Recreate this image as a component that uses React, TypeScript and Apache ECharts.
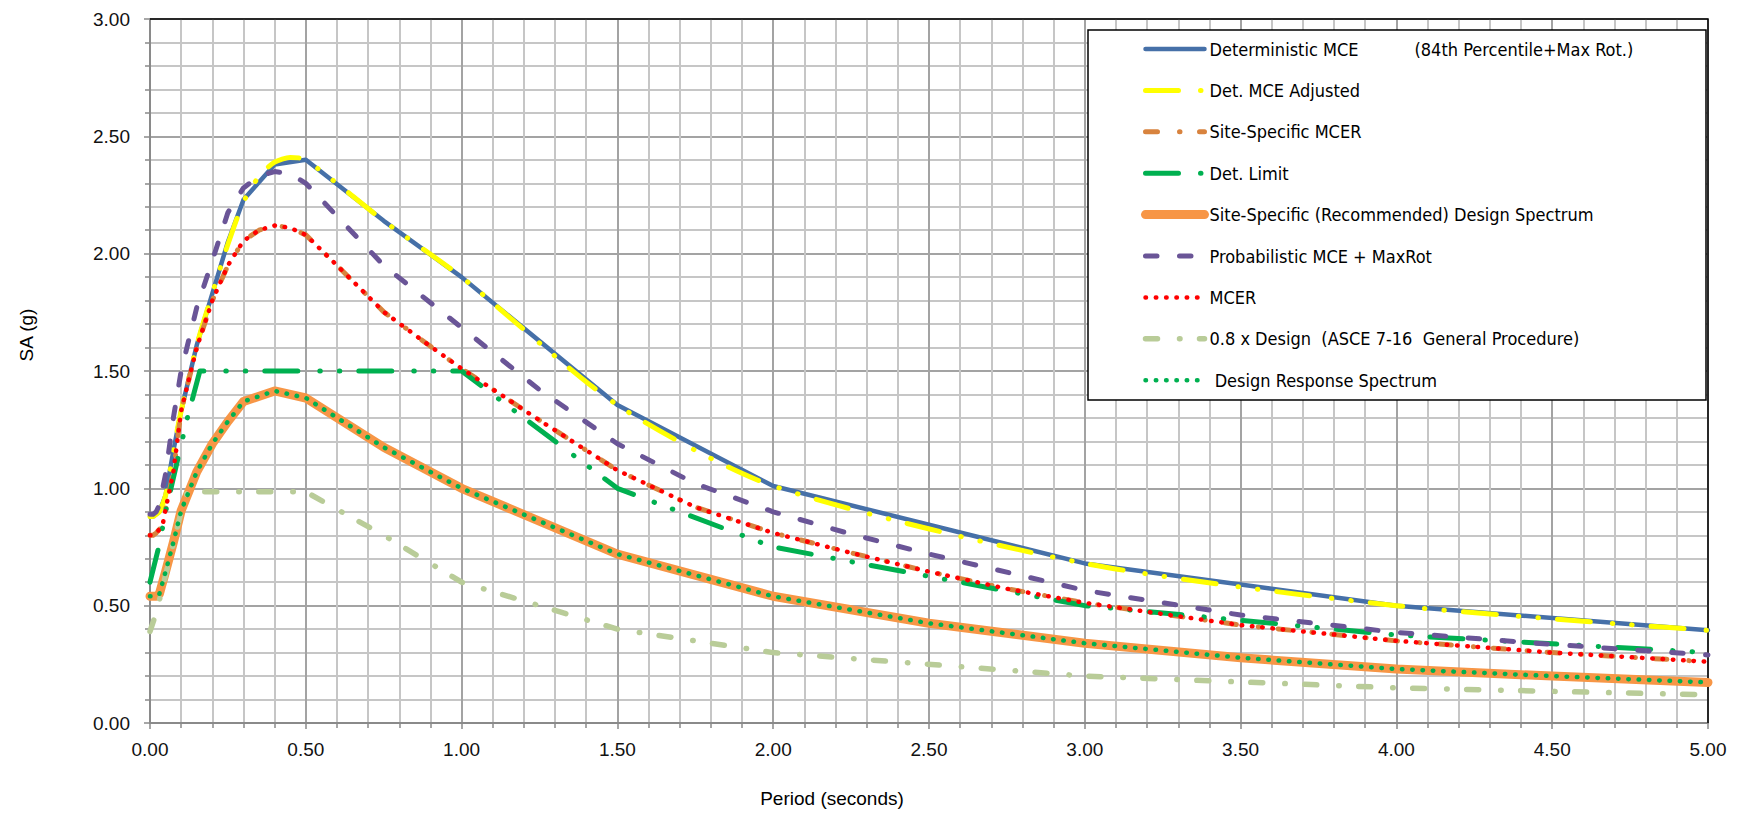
import React, { useEffect, useRef } from 'react';
import * as echarts from 'echarts';

// ---- Data (period in seconds, SA in g) ----
const detMceT = [0, 0.01, 0.02, 0.03, 0.05, 0.075, 0.1, 0.15, 0.2, 0.25, 0.3, 0.4, 0.5, 0.75, 1.0, 1.5, 2.0, 3.0, 4.0, 5.0];
const detMceSa = [0.88, 0.88, 0.89, 0.9, 0.97, 1.16, 1.33, 1.61, 1.83, 2.05, 2.23, 2.38, 2.4, 2.14, 1.9, 1.355, 1.01, 0.68, 0.5, 0.395];

const detMceAdjT = [0, 0.01, 0.02, 0.03, 0.05, 0.075, 0.1, 0.15, 0.2, 0.25, 0.3, 0.35, 0.4, 0.45, 0.5, 0.75, 1.0, 1.5, 2.0, 3.0, 4.0, 5.0];
const detMceAdjSa = [0.88, 0.88, 0.89, 0.9, 0.97, 1.16, 1.33, 1.61, 1.83, 2.04, 2.22, 2.33, 2.39, 2.41, 2.4, 2.14, 1.9, 1.355, 1.01, 0.68, 0.5, 0.395];

const siteMcerT = [0, 0.01, 0.02, 0.03, 0.04, 0.05, 0.075, 0.1, 0.15, 0.2, 0.25, 0.3, 0.35, 0.4, 0.45, 0.5, 0.6, 0.75, 0.9, 1.0, 1.25, 1.5, 1.75, 2.0, 2.25, 2.5, 2.75, 3.0, 3.5, 4.0, 4.5, 5.0];
const siteMcerSa = [0.8, 0.8, 0.81, 0.825, 0.84, 0.91, 1.07, 1.33, 1.6, 1.8, 1.95, 2.055, 2.1, 2.12, 2.11, 2.08, 1.95, 1.752, 1.605, 1.51, 1.29, 1.077, 0.92, 0.81, 0.725, 0.645, 0.572, 0.512, 0.417, 0.35, 0.3, 0.261];

const detLimitT = [0, 0.03, 0.05, 0.09, 0.12, 0.16, 1.0, 1.5, 2.0, 3.0, 4.0, 5.0];
const detLimitSa = [0.6, 0.76, 0.9, 1.13, 1.3, 1.5, 1.5, 1.0, 0.75, 0.5, 0.375, 0.3];

const siteDesignT = [0, 0.01, 0.02, 0.03, 0.05, 0.075, 0.1, 0.15, 0.2, 0.25, 0.3, 0.4, 0.5, 0.75, 1.0, 1.5, 2.0, 2.5, 3.0, 3.5, 4.0, 4.5, 5.0];
const siteDesignSa = [0.54, 0.54, 0.54, 0.55, 0.645, 0.77, 0.905, 1.07, 1.19, 1.285, 1.37, 1.415, 1.385, 1.175, 1.0, 0.72, 0.54, 0.425, 0.34, 0.278, 0.23, 0.2, 0.173];

const probMceT = [0, 0.01, 0.02, 0.03, 0.05, 0.075, 0.1, 0.15, 0.2, 0.25, 0.3, 0.35, 0.4, 0.45, 0.5, 0.75, 1.0, 1.25, 1.5, 1.75, 2.0, 2.25, 2.5, 3.0, 3.5, 4.0, 4.5, 5.0];
const probMceSa = [0.89, 0.89, 0.9, 0.93, 1.06, 1.3, 1.5, 1.77, 1.97, 2.175, 2.28, 2.33, 2.35, 2.34, 2.3, 1.95, 1.685, 1.42, 1.19, 1.02, 0.9, 0.805, 0.72, 0.565, 0.46, 0.386, 0.335, 0.29];

const mcerT = [0, 0.01, 0.02, 0.03, 0.04, 0.05, 0.075, 0.1, 0.15, 0.2, 0.25, 0.3, 0.35, 0.4, 0.45, 0.5, 0.6, 0.75, 0.9, 1.0, 1.25, 1.5, 1.75, 2.0, 2.25, 2.5, 2.75, 3.0, 3.5, 4.0, 4.5, 5.0];
const mcerSa = [0.8, 0.8, 0.81, 0.825, 0.84, 0.91, 1.07, 1.33, 1.6, 1.8, 1.95, 2.055, 2.1, 2.12, 2.11, 2.08, 1.95, 1.752, 1.605, 1.51, 1.29, 1.077, 0.92, 0.81, 0.725, 0.645, 0.572, 0.512, 0.417, 0.35, 0.3, 0.261];

const design08T = [0, 0.02, 0.05, 0.1, 0.12, 0.5, 0.75, 1.0, 1.5, 2.0, 3.0, 4.0, 5.0];
const design08Sa = [0.39, 0.47, 0.63, 0.9, 0.985, 0.985, 0.8, 0.6, 0.4, 0.3, 0.2, 0.15, 0.12];

const designRespT = [0, 0.01, 0.02, 0.03, 0.05, 0.075, 0.1, 0.15, 0.2, 0.25, 0.3, 0.4, 0.5, 0.75, 1.0, 1.5, 2.0, 2.5, 3.0, 3.5, 4.0, 4.5, 5.0];
const designRespSa = [0.54, 0.54, 0.54, 0.55, 0.645, 0.77, 0.905, 1.07, 1.19, 1.285, 1.37, 1.415, 1.385, 1.175, 1.0, 0.72, 0.54, 0.425, 0.34, 0.278, 0.23, 0.2, 0.173];

const seriesNames = [
  'Deterministic MCE',
  'Det. MCE Adjusted',
  'Site-Specific MCER',
  'Det. Limit',
  'Site-Specific (Recommended) Design Spectrum',
  'Probabilistic MCE + MaxRot',
  'MCER',
  '0.8 x Design  (ASCE 7-16  General Procedure)',
  ' Design Response Spectrum',
];

const pairs = (t: number[], v: number[]) => t.map((x, i) => [x, v[i]]);

const NARROW = "'Liberation Sans Narrow', 'DejaVu Sans Condensed', 'Liberation Sans', sans-serif";
const SANS = "'Liberation Sans', Arial, sans-serif";

export default function App() {
  const ref = useRef<HTMLDivElement>(null);

  useEffect(() => {
    if (!ref.current) return;
    const chart = echarts.init(ref.current, undefined, { renderer: 'svg' });

    const mk = (
      name: string,
      data: number[][],
      color: string,
      width: number,
      type: any,
      smooth: number | boolean = false
    ) => ({
      name,
      type: 'line',
      data,
      showSymbol: false,
      smooth,
      lineStyle: { color, width, type, cap: 'round', join: 'round' },
      itemStyle: { color },
      emphasis: { disabled: true },
    });

    const longDashDotDot = [33, 22, 0.5, 19, 0.5, 19];
    const dashDot = [12, 22, 0.5, 19.5];
    const dotted = [0.5, 9.8];

    chart.setOption({
      animation: false,
      textStyle: { fontFamily: SANS },
      grid: {
        left: 150,
        top: 19,
        width: 1558,
        height: 704,
        show: false,
      },
      xAxis: {
        type: 'value',
        min: 0,
        max: 5,
        interval: 0.5,
        axisLine: { show: true, lineStyle: { color: '#8a8a8a', width: 2 } },
        axisTick: { show: true, length: 6, lineStyle: { color: '#8a8a8a', width: 1.5 } },
        minorTick: { show: true, splitNumber: 5, length: 5, lineStyle: { color: '#8a8a8a', width: 1.5 } },
        splitLine: { show: true, lineStyle: { color: '#a3a3a3', width: 2 } },
        minorSplitLine: { show: true, lineStyle: { color: '#c6c6c6', width: 2 } },
        axisLabel: {
          formatter: (v: number) => v.toFixed(2),
          fontSize: 19,
          fontFamily: SANS,
          color: '#111',
          margin: 17,
        },
      },
      yAxis: {
        type: 'value',
        min: 0,
        max: 3,
        interval: 0.5,
        axisLine: { show: true, lineStyle: { color: '#8a8a8a', width: 2 } },
        axisTick: { show: true, length: 6, lineStyle: { color: '#8a8a8a', width: 1.5 } },
        minorTick: { show: true, splitNumber: 5, length: 5, lineStyle: { color: '#8a8a8a', width: 1.5 } },
        splitLine: { show: true, lineStyle: { color: '#a3a3a3', width: 2 } },
        minorSplitLine: { show: true, lineStyle: { color: '#c6c6c6', width: 2 } },
        axisLabel: {
          formatter: (v: number) => v.toFixed(2),
          fontSize: 19,
          fontFamily: SANS,
          color: '#111',
          margin: 20,
        },
      },
      legend: {
        orient: 'vertical',
        left: 1141,
        top: 39,
        padding: 0,
        itemWidth: 59,
        itemHeight: 14,
        itemGap: 21.4,
        z: 10,
        selectedMode: false,
        data: seriesNames,
        lineStyle: { width: 'inherit' },
        itemStyle: { color: 'rgba(0,0,0,0)', borderWidth: 0, opacity: 0 },
        formatter: (name: string) =>
          name === 'Deterministic MCE'
            ? '{a|Deterministic MCE}{b|(84th Percentile+Max Rot.)}'
            : name,
        textStyle: {
          fontFamily: NARROW,
          fontSize: 18,
          lineHeight: 20,
          color: '#000',
          rich: {
            a: { fontFamily: NARROW, fontSize: 18, lineHeight: 20, width: 205, color: '#000' },
            b: { fontFamily: NARROW, fontSize: 18, lineHeight: 20, color: '#000' },
          },
        },
      },
      graphic: [
        {
          type: 'rect',
          z: 3,
          shape: { x: 1088, y: 30, width: 618, height: 370 },
          style: { fill: '#fff', stroke: '#000', lineWidth: 1.5 },
          silent: true,
        },
        {
          type: 'polyline',
          z: 3,
          shape: { points: [[150, 19], [1708, 19], [1708, 723]] },
          style: { fill: 'none', stroke: '#000', lineWidth: 1.5 },
          silent: true,
        },
        {
          type: 'text',
          x: 26,
          y: 335,
          rotation: Math.PI / 2,
          style: {
            text: 'SA (g)',
            fontSize: 19,
            fontFamily: SANS,
            fill: '#000',
            align: 'center',
            verticalAlign: 'middle',
          },
        },
        {
          type: 'text',
          x: 832,
          y: 798,
          style: {
            text: 'Period (seconds)',
            fontSize: 19,
            fontFamily: SANS,
            fill: '#000',
            align: 'center',
            verticalAlign: 'middle',
          },
        },
      ],
      series: [
        mk(seriesNames[0], pairs(detMceT, detMceSa), '#4670a8', 4.5, 'solid'),
        mk(seriesNames[1], pairs(detMceAdjT, detMceAdjSa), '#ffff00', 5, longDashDotDot, 0.25),
        mk(seriesNames[2], pairs(siteMcerT, siteMcerSa), '#d8833e', 5, dashDot),
        mk(seriesNames[3], pairs(detLimitT, detLimitSa), '#00b050', 5, longDashDotDot),
        mk(seriesNames[4], pairs(siteDesignT, siteDesignSa), '#f79646', 9, 'solid'),
        mk(seriesNames[5], pairs(probMceT, probMceSa), '#6a5597', 5, [11.5, 22.5]),
        mk(seriesNames[6], pairs(mcerT, mcerSa), '#ff0000', 4.5, dotted),
        mk(seriesNames[7], pairs(design08T, design08Sa), '#b9cc98', 5.5, dashDot),
        mk(seriesNames[8], pairs(designRespT, designRespSa), '#00b050', 4.5, dotted),
      ],
    });

    return () => chart.dispose();
  }, []);

  return (
    <div
      ref={ref}
      style={{ position: 'fixed', left: 0, top: 0, width: 1745, height: 813, background: '#fff' }}
    />
  );
}
